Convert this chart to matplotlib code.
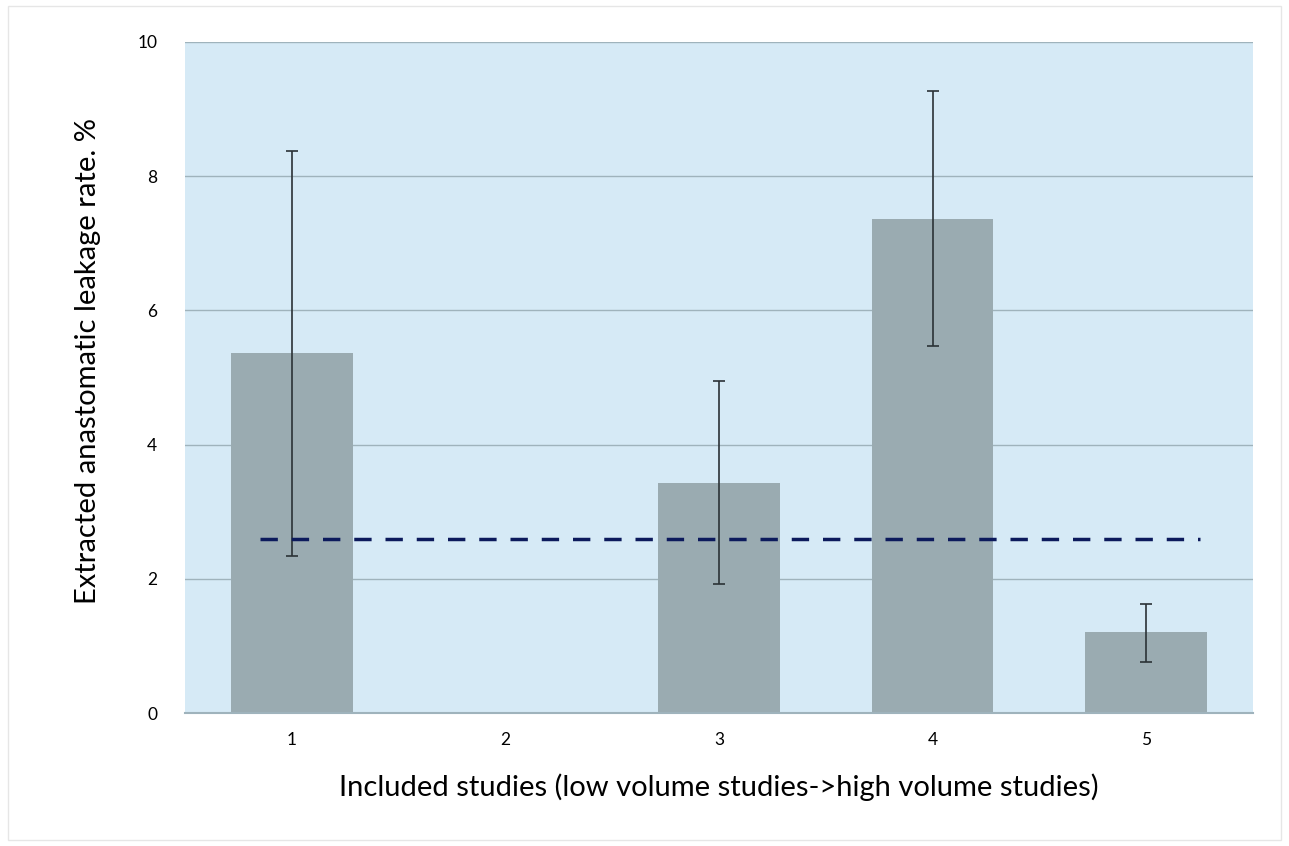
import matplotlib.pyplot as plt
import matplotlib.patches as mpatches

studies = [1, 2, 3, 4, 5]
rates = [5.37, 0.0, 3.43, 7.36, 1.21]
upper = [8.38, 0.0, 4.95, 9.27, 1.62]
lower = [2.34, 0.0, 1.92, 5.47, 0.76]
pooled = 2.60

plt.rcParams['font.family'] = ['Lato', 'DejaVu Sans']

fig = plt.figure(figsize=(12.89, 8.46), dpi=100)
ax = fig.add_axes([185 / 1289, 1 - 713 / 846, 1068 / 1289, 671 / 846])
ax.set_facecolor('#d6eaf6')

err_lo = [r - l for r, l in zip(rates, lower)]
err_hi = [u - r for r, u in zip(rates, upper)]
shown = [i for i, r in enumerate(rates) if r > 0]
ax.bar(studies, rates, width=0.57, color='#9aabb1', zorder=2)
ax.errorbar([studies[i] for i in shown], [rates[i] for i in shown],
            yerr=[[err_lo[i] for i in shown], [err_hi[i] for i in shown]],
            fmt='none', ecolor='#2b3236', elinewidth=1.2, capsize=4, capthick=1.2, zorder=3)
ax.plot([0.85, 5.25], [pooled, pooled], color='#0c1a5c', lw=2.5,
        dashes=(5, 4), zorder=4)

ax.set_xlim(0.5, 5.5)
ax.set_ylim(0, 10)
ax.set_yticks([0, 2, 4, 6, 8, 10])
ax.set_xticks(studies)
ax.yaxis.grid(True, color='#9fb3bc', lw=1)
ax.set_axisbelow(True)
for s in ['left', 'right', 'top']:
    ax.spines[s].set_visible(False)
ax.spines['bottom'].set_color('#9fb3bc')
ax.spines['bottom'].set_linewidth(1.5)
ax.tick_params(length=0, labelsize=12.5, pad=14)
ax.tick_params(axis='y', pad=20)
ax.set_xlabel('Included studies (low volume studies->high volume studies)', fontsize=21, labelpad=18)
ax.set_ylabel('Extracted anastomatic leakage rate. %', fontsize=21)
ax.yaxis.set_label_coords(-0.079, 0.525)

fig.patches.append(mpatches.Rectangle((8 / 1289, 6 / 846), 1 - 16 / 1289, 1 - 12 / 846,
                                      transform=fig.transFigure, fill=False,
                                      edgecolor='#e6e6e6', lw=1))

fig.savefig('out.png', dpi=100)
